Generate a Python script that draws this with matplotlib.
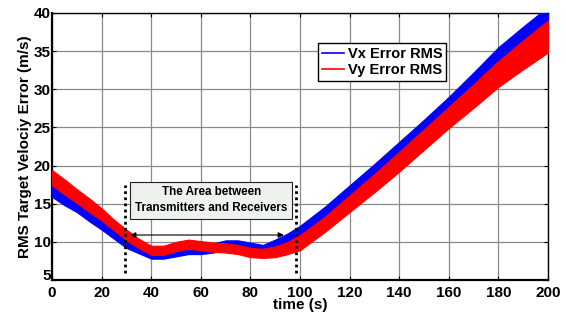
import numpy as np
import matplotlib
matplotlib.use("Agg")
import matplotlib.pyplot as plt
from matplotlib.transforms import ScaledTranslation

plt.rcParams['font.family'] = ['Liberation Sans', 'DejaVu Sans']
plt.rcParams['font.weight'] = 'bold'

# time samples (s)
t = [0, 5, 10, 15, 20, 25, 30, 35, 40, 45, 50, 55, 60, 65, 70, 75, 80, 85, 90, 95,
     100, 110, 120, 130, 140, 150, 160, 170, 180, 190, 200]

# Vx error RMS: band centre and half-spread of the noisy trace
vx_mid = [16.9, 15.8, 14.8, 13.6, 12.4, 11.1, 9.9, 9.1, 8.4, 8.4, 8.7, 9.0, 9.0, 9.2, 9.6, 9.6, 9.3, 9.0, 9.6, 10.3,
          11.2, 13.6, 16.3, 19.0, 21.8, 24.7, 27.7, 30.8, 34.0, 36.7, 39.3]
vx_spread = [1.0, 1.0, 0.9, 0.9, 0.8, 0.7, 0.7, 0.6, 0.6, 0.6, 0.6, 0.6, 0.6, 0.6, 0.6, 0.6, 0.6, 0.6, 0.7, 0.8,
             0.9, 1.0, 1.1, 1.2, 1.3, 1.3, 1.3, 1.4, 1.5, 1.5, 1.5]

# Vy error RMS
vy_mid = [18.4, 17.2, 16.0, 14.8, 13.6, 12.2, 10.9, 9.8, 8.9, 8.9, 9.4, 9.7, 9.5, 9.3, 9.2, 9.0, 8.6, 8.5, 8.7, 9.2,
          9.9, 12.3, 15.0, 17.7, 20.5, 23.4, 26.3, 29.1, 32.0, 34.5, 36.9]
vy_spread = [1.0, 1.0, 0.9, 0.9, 0.8, 0.7, 0.7, 0.6, 0.6, 0.6, 0.6, 0.6, 0.6, 0.6, 0.6, 0.6, 0.6, 0.6, 0.7, 0.8,
             1.0, 1.0, 1.1, 1.2, 1.3, 1.35, 1.4, 1.55, 1.7, 1.9, 2.1]

x_ticks = [0, 20, 40, 60, 80, 100, 120, 140, 160, 180, 200]
y_ticks = [5, 10, 15, 20, 25, 30, 35, 40]

# region between transmitters and receivers
zone_start, zone_end = 29.5, 98.3
arrow_start, arrow_end, arrow_y = 31.5, 93.5, 10.9
zone_label = "The Area between\nTransmitters and Receivers"

fig = plt.figure(figsize=(5.66, 3.15), dpi=100)
ax = fig.add_axes([0.092, 0.111, 0.876, 0.848])

t_arr = np.array(t)
vx_lo = np.array(vx_mid) - np.array(vx_spread)
vx_hi = np.array(vx_mid) + np.array(vx_spread)
vy_lo = np.array(vy_mid) - np.array(vy_spread)
vy_hi = np.array(vy_mid) + np.array(vy_spread)

ax.fill_between(t_arr, vx_lo, vx_hi, color='#0000ff', linewidth=0.8, edgecolor='#0000ff', zorder=3)
ax.fill_between(t_arr, vy_lo, vy_hi, color='#ff0000', linewidth=0.8, edgecolor='#ff0000', zorder=4)

# legend proxies
ax.plot([], [], color='#0000ff', lw=1.2, label='Vx Error RMS')
ax.plot([], [], color='#ff0000', lw=1.2, label='Vy Error RMS')

# dotted boundaries
for xv in (zone_start, zone_end):
    ax.plot([xv, xv], [5.9, 17.5], color='black', lw=2.0, linestyle=(0, (1, 1.2)), zorder=5)

ax.annotate('', xy=(arrow_start, arrow_y), xytext=(arrow_end, arrow_y),
            arrowprops=dict(arrowstyle='<|-|>', color='black', lw=0.8,
                            mutation_scale=8, shrinkA=0, shrinkB=0), zorder=6)

ax.text((zone_start + zone_end) / 2 + 0.3, 15.45, zone_label, ha='center', va='center',
        fontsize=8.4, fontweight='bold', linespacing=1.4, zorder=6,
        bbox=dict(boxstyle='square,pad=0.4', facecolor='#eef2ec', edgecolor='#222222', lw=0.8))

ax.set_xlim(0, 200)
ax.set_ylim(5, 40)
ax.set_xticks(x_ticks)
ax.set_yticks(y_ticks)
ax.tick_params(direction='in', top=True, right=True, length=3, labelsize=11, width=0.8)
for lab in ax.get_xticklabels() + ax.get_yticklabels():
    lab.set_fontweight('bold')
ax.tick_params(axis='x', pad=4)
ax.tick_params(axis='y', pad=1)

# nudge the lowest y label up so it clears the "0" below it
low_lab = ax.get_yticklabels()[0]
low_lab.set_transform(low_lab.get_transform() + ScaledTranslation(0, 4 / 72, fig.dpi_scale_trans))

ax.grid(True, color='#8a8a8a', lw=0.9, linestyle='-')
ax.set_axisbelow(True)
for side in ['left', 'bottom']:
    ax.spines[side].set_linewidth(1.6)
for side in ['top', 'right']:
    ax.spines[side].set_linewidth(1.0)

ax.set_xlabel('time (s)', fontsize=11, fontweight='bold', labelpad=-1)
ax.set_ylabel('RMS Target Velociy Error (m/s)', fontsize=11, fontweight='bold', labelpad=1)

leg = ax.legend(loc='upper left', bbox_to_anchor=(0.537, 0.886), fontsize=10.5,
                handlelength=1.5, handletextpad=0.3, borderpad=0.25, labelspacing=0.15,
                fancybox=False, framealpha=1, edgecolor='black', borderaxespad=0)
leg.get_frame().set_linewidth(1.0)
for txt in leg.get_texts():
    txt.set_fontweight('bold')

fig.savefig('out.png', dpi=100)
